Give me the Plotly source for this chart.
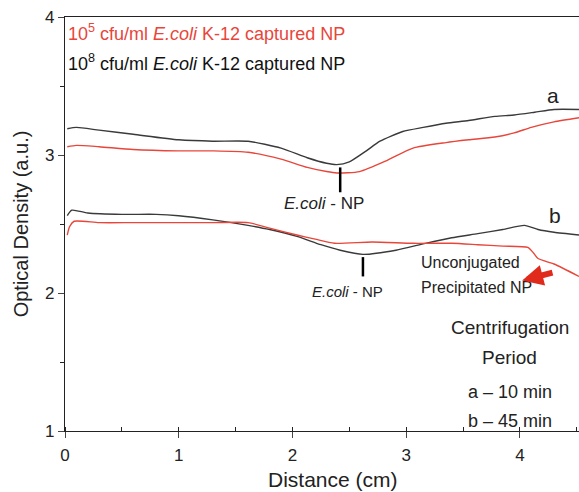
import plotly.graph_objects as go

# Curve a (10 min) and b (45 min), red = 10^5, black = 10^8
xa_black = [0.02, 0.1, 0.3, 0.6, 1.0, 1.3, 1.61, 1.9, 2.13, 2.3, 2.39, 2.5, 2.65, 2.77, 2.97, 3.15, 3.35, 3.55, 3.78, 3.95, 4.13, 4.3, 4.52]
ya_black = [3.19, 3.20, 3.18, 3.15, 3.11, 3.10, 3.10, 3.05, 2.98, 2.94, 2.93, 2.95, 3.03, 3.10, 3.17, 3.20, 3.23, 3.25, 3.28, 3.29, 3.31, 3.33, 3.33]

xa_red = [0.02, 0.1, 0.3, 0.6, 1.0, 1.3, 1.61, 1.9, 2.13, 2.3, 2.39, 2.59, 2.83, 3.06, 3.35, 3.55, 3.78, 3.95, 4.10, 4.3, 4.52]
ya_red = [3.06, 3.07, 3.06, 3.04, 3.03, 3.03, 3.02, 2.97, 2.91, 2.88, 2.87, 2.88, 2.96, 3.05, 3.09, 3.11, 3.13, 3.16, 3.20, 3.24, 3.27]

xb_black = [0.02, 0.06, 0.2, 0.5, 0.8, 1.0, 1.3, 1.61, 1.8, 2.04, 2.25, 2.42, 2.62, 2.91, 3.17, 3.4, 3.63, 3.85, 4.04, 4.16, 4.3, 4.52]
yb_black = [2.56, 2.60, 2.58, 2.57, 2.57, 2.56, 2.53, 2.49, 2.46, 2.41, 2.35, 2.31, 2.28, 2.31, 2.36, 2.40, 2.43, 2.46, 2.49, 2.46, 2.44, 2.42]

xb_red = [0.02, 0.04, 0.08, 0.3, 0.6, 1.0, 1.3, 1.61, 1.8, 2.04, 2.2, 2.37, 2.7, 3.06, 3.4, 3.63, 3.85, 4.07, 4.12, 4.16, 4.3, 4.52]
yb_red = [2.42, 2.48, 2.52, 2.51, 2.51, 2.51, 2.51, 2.51, 2.47, 2.42, 2.39, 2.36, 2.37, 2.36, 2.36, 2.35, 2.34, 2.33, 2.29, 2.25, 2.21, 2.12]

x_ticks = [0, 1, 2, 3, 4]
y_ticks = [1, 2, 3, 4]

BLACK = "#3a3a3a"
RED = "#e8463a"
FONT = "Liberation Sans, Arial, sans-serif"

fig = go.Figure()
for xs, ys, c in [(xa_black, ya_black, BLACK), (xa_red, ya_red, RED),
                  (xb_black, yb_black, BLACK), (xb_red, yb_red, RED)]:
    fig.add_trace(go.Scatter(x=xs, y=ys, mode="lines", line=dict(color=c, width=1.4, shape="spline", smoothing=0.6),
                             showlegend=False, hoverinfo="skip"))

# marker lines
fig.add_shape(type="line", x0=2.42, x1=2.42, y0=2.91, y1=2.73, line=dict(color="black", width=2.5))
fig.add_shape(type="line", x0=2.62, x1=2.62, y0=2.26, y1=2.12, line=dict(color="black", width=2.5))

def txt(x, y, t, size=14, color="#222", xanchor="center"):
    fig.add_annotation(x=x, y=y, text=t, showarrow=False, font=dict(size=size, color=color, family=FONT),
                       xanchor=xanchor, yanchor="middle")

txt(2.28, 2.65, "<i>E.coli</i> - NP", 17)
txt(2.48, 2.01, "<i>E.coli</i> - NP", 15)
txt(3.11, 2.22, "Unconjugated", 16, xanchor="left")
txt(3.11, 2.04, "Precipitated NP", 16, xanchor="left")
txt(4.29, 3.43, "a", 21)
txt(4.31, 2.56, "b", 21)
txt(3.91, 1.75, "Centrifugation", 19)
txt(3.91, 1.53, "Period", 19)
txt(3.91, 1.28, "a – 10 min", 18)
txt(3.91, 1.07, "b – 45 min", 18)
fig.add_annotation(x=0.01, y=3.89, text="10<sup>5</sup> cfu/ml <i>E.coli</i> K-12 captured NP", showarrow=False,
                   font=dict(size=18, color=RED, family=FONT), xanchor="left", yanchor="middle")
fig.add_annotation(x=0.01, y=3.67, text="10<sup>8</sup> cfu/ml <i>E.coli</i> K-12 captured NP", showarrow=False,
                   font=dict(size=18, color="#111", family=FONT), xanchor="left", yanchor="middle")

# x-axis title (centred on the full, partly cropped axis)
fig.add_annotation(x=2.36, y=-0.118, xref="x", yref="paper", text="Distance (cm)", showarrow=False,
                   font=dict(size=21, color="#222", family=FONT), xanchor="center", yanchor="middle")

# red arrow
fig.add_annotation(x=4.02, y=2.09, ax=4.30, ay=2.15, xref="x", yref="y", axref="x", ayref="y",
                   text="", showarrow=True, arrowhead=2, arrowsize=0.7, arrowwidth=6, arrowcolor="#e02a1c")

fig.update_layout(
    width=579, height=492,
    margin=dict(l=65, r=0, t=17, b=61),
    paper_bgcolor="white", plot_bgcolor="white",
    font=dict(family=FONT, color="#222"),
    xaxis=dict(range=[0, 4.52], tickvals=x_ticks, ticks="outside", ticklen=6, tickwidth=1.3,
               showline=True, linecolor="#222", linewidth=1.3, mirror=True, showgrid=False, zeroline=False,
               tickfont=dict(size=17), ticklabelstandoff=2,
               minor=dict(dtick=0.5, tick0=0, ticks="inside", ticklen=4, tickcolor="#222")),
    yaxis=dict(range=[1, 4], tickvals=y_ticks, ticks="outside", ticklen=6, tickwidth=1.3,
               showline=True, linecolor="#222", linewidth=1.3, showgrid=False, zeroline=False,
               tickfont=dict(size=17), title=dict(text="Optical Density (a.u.)", font=dict(size=20), standoff=10),
               minor=dict(dtick=0.5, tick0=0, ticks="outside", ticklen=4, tickcolor="#222")),
)

fig.write_html("out.html")
